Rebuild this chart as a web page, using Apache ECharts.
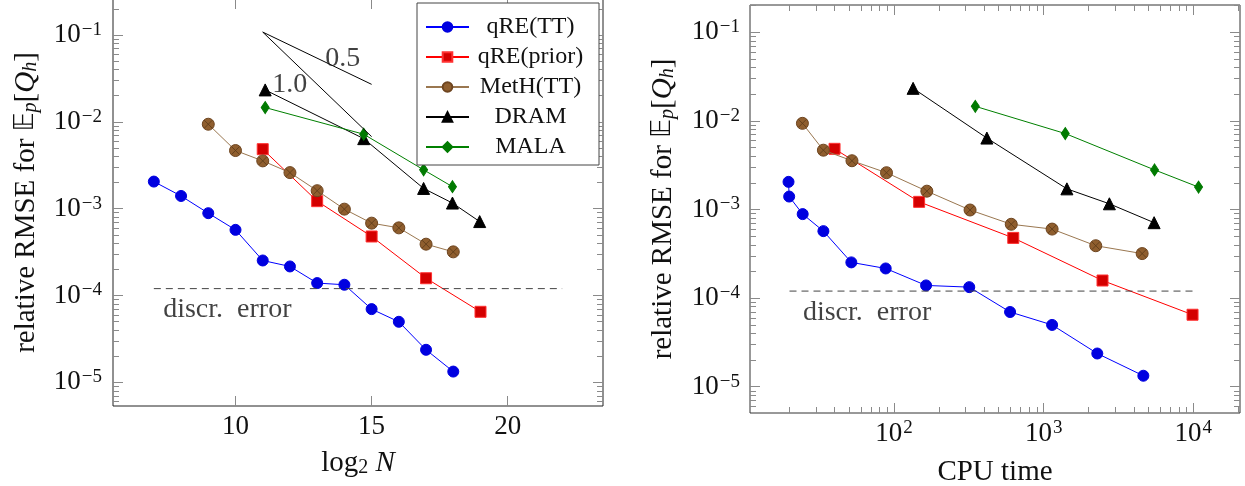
<!DOCTYPE html>
<html>
<head>
<meta charset="utf-8">
<script src="https://cdn.jsdelivr.net/npm/echarts@6/dist/echarts.min.js"></script>
<style>
html, body { margin: 0; padding: 0; background: #fff; }
#main { width: 1245px; height: 486px; }
</style>
</head>
<body>
<div id="main"></div>
<script>
// sample size, as log2 N
var log2N_TT    = [7, 8, 9, 10, 11, 12, 13, 14, 15, 16, 17, 18];
var log2N_prior = [11, 13, 15, 17, 19];
var log2N_meth  = [9, 10, 11, 12, 13, 14, 15, 16, 17, 18];
var log2N_dram  = [11.09, 14.71, 16.91, 17.97, 18.97];
var log2N_mala  = [11.09, 14.71, 16.91, 17.97];

// relative RMSE for E_p[Q_h]
var rmse_TT    = [2.05e-3, 1.40e-3, 8.87e-4, 5.70e-4, 2.53e-4, 2.16e-4, 1.39e-4, 1.33e-4, 6.97e-5, 4.98e-5, 2.37e-5, 1.33e-5];
var rmse_prior = [4.84e-3, 1.22e-3, 4.78e-4, 1.58e-4, 6.49e-5];
var rmse_meth  = [9.38e-3, 4.67e-3, 3.55e-3, 2.60e-3, 1.61e-3, 9.87e-4, 6.81e-4, 6.01e-4, 3.90e-4, 3.18e-4];
var rmse_dram  = [2.33e-2, 6.4e-3, 1.71e-3, 1.16e-3, 7.1e-4];
var rmse_mala  = [1.46e-2, 7.2e-3, 2.8e-3, 1.79e-3];

// CPU time
var cpu_TT    = [19.7, 19.9, 24.5, 33.7, 51.8, 87.9, 163.6, 318, 596, 1138, 2281, 4634];
var cpu_prior = [40.0, 147, 626, 2472, 9880];
var cpu_meth  = [24.4, 33.7, 52.3, 89, 165.6, 322, 607, 1138, 2228, 4550];
var cpu_dram  = [134, 417, 1429, 2748, 5470];
var cpu_mala  = [349, 1393, 5505, 10840];

// discretisation error level and slope guides
var discrError = 1.2e-4;
var discrLeftX = [7, 22];
var discrRightX = [20, 10000];
var slopeX = [11, 15];
var slopeHalf = [0.108, 0.027];
var slopeOne = [0.108, 0.00675];

// ticks
var xTicksLeft = [10, 15, 20];
var xTicksRight = [100, 1000, 10000];
var yTicks = [1e-5, 1e-4, 1e-3, 1e-2, 1e-1];

var names = ['qRE(TT)', 'qRE(prior)', 'MetH(TT)', 'DRAM', 'MALA'];

function minorTicks(lo, hi) {
    var out = [];
    for (var e = lo; e <= hi; e++) {
        for (var m = 2; m <= 9; m++) out.push(m * Math.pow(10, e));
    }
    return out;
}
var yMinor = minorTicks(-6, -1);
var xMinorRight = minorTicks(1, 4);

var FONT = 'Liberation Serif';
var TXT = '#111';
var TICK = '#8a8a8a';

function zip(xs, ys) {
    return xs.map(function (x, i) { return [x, ys[i]]; });
}

function powLabel(v) {
    var e = Math.round(Math.log10(v));
    return '{b|10}{s|' + (e < 0 ? '\u2212' + (-e) : e) + '}';
}
var powRich = {
    b: { fontFamily: FONT, fontSize: 27, color: TXT },
    s: { fontFamily: FONT, fontSize: 19, color: TXT, verticalAlign: 'top', padding: [0, 0, 10, 1] }
};

var yName = '{t|relative RMSE for }{bb|\uD835\uDD3C}{sub|p}{t|[}{i|Q}{sub|h}{t|]}';
var nameRich = {
    t: { fontFamily: FONT, fontSize: 29, color: TXT },
    bb: { fontFamily: 'DejaVu Sans', fontSize: 26, color: TXT },
    i: { fontFamily: FONT, fontSize: 29, fontStyle: 'italic', color: TXT },
    sub: { fontFamily: FONT, fontSize: 20, fontStyle: 'italic', color: TXT, verticalAlign: 'bottom', padding: [10, 0, 0, 0] },
    n: { fontFamily: FONT, fontSize: 20, color: TXT, verticalAlign: 'bottom', padding: [10, 0, 0, 0] }
};

function tickStyle(len, vals) {
    return { show: true, inside: true, length: len, customValues: vals, lineStyle: { color: TICK, width: 1 } };
}

function xAx(grid, pos, type, ext, ticks, len, label) {
    return {
        type: type, gridIndex: grid, position: pos, min: ext[0], max: ext[1],
        axisLine: { show: false, onZero: false },
        splitLine: { show: false },
        axisTick: tickStyle(len, ticks),
        axisLabel: label || { show: false }
    };
}
function yAx(grid, pos, ext, ticks, len, label) {
    return {
        type: 'log', logBase: 10, gridIndex: grid, position: pos, min: ext[0], max: ext[1],
        axisLine: { show: false, onZero: false },
        splitLine: { show: false },
        axisTick: tickStyle(len, ticks),
        axisLabel: label || { show: false }
    };
}

var extXL = [5.5, 23.5];
var extYL = [5.34e-6, 0.2596];
var extXR = [10.89, 20510];
var extYR = [5.05e-6, 0.2032];

var xAxes = [
    xAx(0, 'bottom', 'value', extXL, xTicksLeft, 10, {
        show: true, customValues: xTicksLeft, margin: 7,
        fontFamily: FONT, fontSize: 27, color: TXT
    }),
    xAx(0, 'top', 'value', extXL, xTicksLeft, 10),
    xAx(1, 'bottom', 'log', extXR, xTicksRight, 10, {
        show: true, customValues: xTicksRight, margin: 6,
        formatter: powLabel, rich: powRich
    }),
    xAx(1, 'bottom', 'log', extXR, xMinorRight, 6),
    xAx(1, 'top', 'log', extXR, xTicksRight, 10),
    xAx(1, 'top', 'log', extXR, xMinorRight, 6)
];
xAxes[0].name = '{t|log}{n|2}{t| }{i|N}';
xAxes[0].nameLocation = 'middle';
xAxes[0].nameGap = 42;
xAxes[0].nameTextStyle = { rich: nameRich };
xAxes[2].name = 'CPU time';
xAxes[2].nameLocation = 'middle';
xAxes[2].nameGap = 45;
xAxes[2].nameTextStyle = { fontFamily: FONT, fontSize: 29, color: TXT };

var yLabel = function (m) {
    return { show: true, customValues: yTicks, margin: m, formatter: powLabel, rich: powRich };
};
var yAxes = [
    yAx(0, 'left', extYL, yTicks, 10, yLabel(11)),
    yAx(0, 'left', extYL, yMinor, 6),
    yAx(0, 'right', extYL, yTicks, 10),
    yAx(0, 'right', extYL, yMinor, 6),
    yAx(1, 'left', extYR, yTicks, 10, yLabel(10)),
    yAx(1, 'left', extYR, yMinor, 6),
    yAx(1, 'right', extYR, yTicks, 10),
    yAx(1, 'right', extYR, yMinor, 6)
];
[0, 4].forEach(function (k) {
    yAxes[k].name = yName;
    yAxes[k].nameLocation = 'middle';
    yAxes[k].nameGap = 72;
    yAxes[k].nameRotate = 90;
    yAxes[k].nameTextStyle = { rich: nameRich };
});

var styles = [
    { line: '#0000ff', fill: '#0000e0', border: '#0000e0', symbol: 'circle', size: 11 },
    { line: '#ff0000', fill: '#d40000', border: '#ff3030', symbol: 'rect', size: 11 },
    { line: '#9a7750', fill: '#8f5e2e', border: '#6e4520', symbol: 'circle', size: 12 },
    { line: '#000000', fill: '#000000', border: '#000000', symbol: 'triangle', size: 12 },
    { line: '#008000', fill: '#007a00', border: '#007a00', symbol: 'diamond', size: [8, 12] }
];

function curve(k, data, xi, yi) {
    var s = styles[k];
    return {
        name: names[k], type: 'line', xAxisIndex: xi, yAxisIndex: yi, data: data,
        symbol: s.symbol, symbolSize: s.size, showSymbol: true,
        lineStyle: { color: s.line, width: 1 },
        itemStyle: { color: s.fill, borderColor: s.border, borderWidth: 1 },
        z: 3 + k
    };
}
function crosses(data, xi, yi) {
    return {
        name: 'cross', type: 'scatter', xAxisIndex: xi, yAxisIndex: yi, data: data,
        symbol: 'path://M0,0L10,10M10,0L0,10', symbolSize: 8,
        itemStyle: { color: 'transparent', borderColor: '#5a3a18', borderWidth: 1 },
        silent: true, z: 6
    };
}
function guide(data, xi, yi, dashed) {
    return {
        name: 'guide', type: 'line', xAxisIndex: xi, yAxisIndex: yi, data: data,
        symbol: 'none', silent: true,
        lineStyle: dashed ? { color: '#444', width: 1, type: [7, 5] } : { color: '#000', width: 1 },
        z: 9
    };
}
function notes(items, xi, yi) {
    return {
        name: 'note', type: 'scatter', xAxisIndex: xi, yAxisIndex: yi, symbolSize: 0, silent: true,
        data: items.map(function (it) {
            return { value: it.at, label: { show: true, position: 'inside', formatter: it.text,
                fontFamily: FONT, fontSize: 28, color: TXT } };
        }),
        z: 10
    };
}

var series = [
    curve(0, zip(log2N_TT, rmse_TT), 0, 0),
    curve(1, zip(log2N_prior, rmse_prior), 0, 0),
    curve(2, zip(log2N_meth, rmse_meth), 0, 0),
    crosses(zip(log2N_meth, rmse_meth), 0, 0),
    curve(3, zip(log2N_dram, rmse_dram), 0, 0),
    curve(4, zip(log2N_mala, rmse_mala), 0, 0),
    guide(zip(slopeX, slopeHalf), 0, 0, false),
    guide(zip(slopeX, slopeOne), 0, 0, false),
    guide(zip(discrLeftX, [discrError, discrError]), 0, 0, true),
    notes([
        { at: [13.94, 0.053], text: '0.5' },
        { at: [11.99, 0.0266], text: '1.0' },
        { at: [9.7, 6.84e-5], text: 'discr.  error' }
    ], 0, 0),

    curve(0, zip(cpu_TT, rmse_TT), 2, 4),
    curve(1, zip(cpu_prior, rmse_prior), 2, 4),
    curve(2, zip(cpu_meth, rmse_meth), 2, 4),
    crosses(zip(cpu_meth, rmse_meth), 2, 4),
    curve(3, zip(cpu_dram, rmse_dram), 2, 4),
    curve(4, zip(cpu_mala, rmse_mala), 2, 4),
    guide(zip(discrRightX, [discrError, discrError]), 2, 4, true),
    notes([
        { at: [66, 6.84e-5], text: 'discr.  error' }
    ], 2, 4)
];

var chart = echarts.init(document.getElementById('main'), null, { renderer: 'canvas' });
chart.setOption({
    animation: false,
    backgroundColor: '#fff',
    grid: [
        { left: 113, top: -1, width: 490, height: 407, show: true, borderColor: '#222', borderWidth: 1,
          backgroundColor: 'transparent', outerBoundsMode: 'none' },
        { left: 750, top: 5, width: 490, height: 408, show: true, borderColor: '#333', borderWidth: 1,
          backgroundColor: 'transparent', outerBoundsMode: 'none' }
    ],
    legend: {
        data: names, orient: 'vertical', left: 417, top: 3,
        backgroundColor: '#fff', borderColor: '#444', borderWidth: 1,
        padding: [12, 12, 6, 8], itemWidth: 43, itemHeight: 12, itemGap: 6,
        selectedMode: false, z: 20,
        formatter: function (n) { return '{c|' + n + '}'; },
        textStyle: { rich: { c: { width: 113, align: 'center', fontFamily: FONT, fontSize: 24, lineHeight: 24, color: TXT } } }
    },
    xAxis: xAxes,
    yAxis: yAxes,
    series: series
});
</script>
</body>
</html>
